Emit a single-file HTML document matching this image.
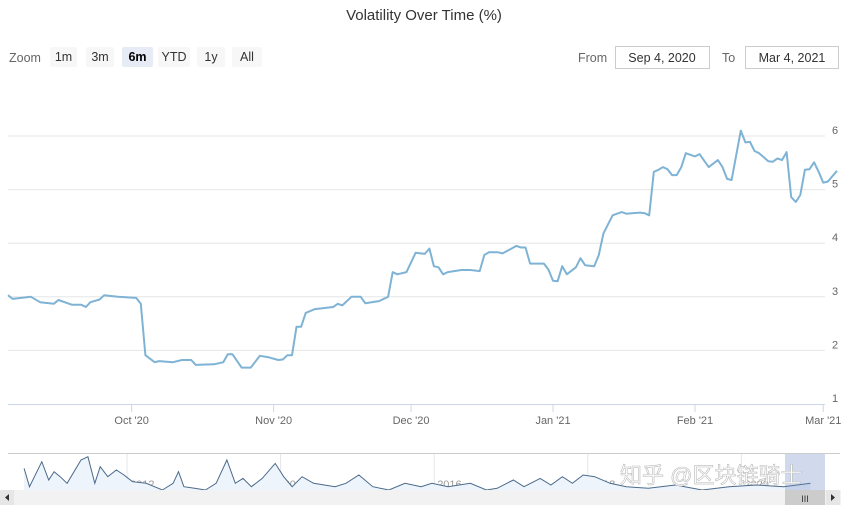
<!DOCTYPE html>
<html><head><meta charset="utf-8">
<style>
body{margin:0;background:#fff;font-family:"Liberation Sans","Noto Sans CJK SC",sans-serif;}
svg{display:block}
</style></head>
<body>
<svg id="chart" width="847" height="511" viewBox="0 0 847 511" xmlns="http://www.w3.org/2000/svg" font-family="Liberation Sans, Noto Sans CJK SC, sans-serif">
  <text x="424" y="20" text-anchor="middle" font-size="15" fill="#333">Volatility Over Time (%)</text>
  <text x="9" y="62" font-size="12.5" fill="#666">Zoom</text>
  <g><rect x="50" y="47" width="27" height="20" rx="2" fill="#f7f7f7"/><text x="63.5" y="61" text-anchor="middle" font-size="12.5" fill="#333">1m</text></g>
  <g><rect x="86" y="47" width="28" height="20" rx="2" fill="#f7f7f7"/><text x="100" y="61" text-anchor="middle" font-size="12.5" fill="#333">3m</text></g>
  <g><rect x="122" y="47" width="31" height="20" rx="2" fill="#e6ebf5"/><text x="137.5" y="61" text-anchor="middle" font-size="12.5" font-weight="bold" fill="#000">6m</text></g>
  <g><rect x="158" y="47" width="32" height="20" rx="2" fill="#f7f7f7"/><text x="174" y="61" text-anchor="middle" font-size="12.5" fill="#333">YTD</text></g>
  <g><rect x="197" y="47" width="28" height="20" rx="2" fill="#f7f7f7"/><text x="211" y="61" text-anchor="middle" font-size="12.5" fill="#333">1y</text></g>
  <g><rect x="232" y="47" width="30" height="20" rx="2" fill="#f7f7f7"/><text x="247" y="61" text-anchor="middle" font-size="12.5" fill="#333">All</text></g>
  <text x="578" y="62" font-size="12.5" fill="#666">From</text>
  <g><rect x="615.5" y="46.5" width="94" height="22" fill="#fff" stroke="#ccc"/><text x="662" y="62" text-anchor="middle" font-size="12.5" fill="#333">Sep 4, 2020</text></g>
  <text x="722" y="62" font-size="12.5" fill="#666">To</text>
  <g><rect x="745.5" y="46.5" width="93" height="22" fill="#fff" stroke="#ccc"/><text x="792" y="62" text-anchor="middle" font-size="12.5" fill="#333">Mar 4, 2021</text></g>
  <g id="grid"></g>
  <g id="xaxis"></g>
  <g id="series"></g>
  <g id="nav"></g>
</svg>
<script>
const days = [0,1,5,7,10,11,14,16,17,18,20,21,24,28,29,30,32,33,36,38,40,41,45,47,48,49,51,53,55,57,59,60,61,62,63,64,65,67,71,72,73,75,77,78,81,83,84,85,87,89,91,92,93,94,95,96,99,101,103,104,105,107,108,111,112,113,114,117,118,119,120,121,122,124,125,126,128,129,130,132,133,134,135,138,139,140,141,142,143,144,145,146,147,148,150,151,153,155,156,157,158,160,161,162,163,164,166,167,168,169,170,171,172,173,174,175,176,177,178,179,181];
const values = [3.03,2.96,3.0,2.9,2.87,2.94,2.85,2.85,2.81,2.9,2.95,3.03,3.0,2.98,2.87,1.91,1.78,1.8,1.78,1.82,1.82,1.73,1.74,1.78,1.93,1.93,1.68,1.68,1.9,1.87,1.82,1.83,1.91,1.91,2.44,2.44,2.70,2.77,2.81,2.87,2.84,3.0,3.0,2.88,2.92,3.0,3.46,3.42,3.46,3.82,3.8,3.9,3.57,3.55,3.42,3.46,3.5,3.5,3.48,3.78,3.83,3.83,3.81,3.95,3.92,3.92,3.62,3.62,3.51,3.3,3.29,3.57,3.42,3.55,3.72,3.59,3.57,3.78,4.18,4.52,4.55,4.58,4.55,4.57,4.56,4.52,5.33,5.37,5.42,5.38,5.27,5.27,5.42,5.68,5.62,5.66,5.42,5.55,5.42,5.2,5.18,6.1,5.88,5.89,5.72,5.68,5.53,5.52,5.58,5.55,5.70,4.86,4.77,4.9,5.37,5.38,5.51,5.33,5.13,5.15,5.35,5.35];
const yTicks = [1,2,3,4,5,6];
const xTickDays = [27,58,88,119,150,178];
const xTickLabels = ["Oct '20","Nov '20","Dec '20","Jan '21","Feb '21","Mar '21"];
const navYears = [2010.66,2010.73,2010.89,2010.98,2011.05,2011.13,2011.22,2011.40,2011.49,2011.58,2011.65,2011.75,2011.86,2011.96,2012.07,2012.25,2012.46,2012.60,2012.67,2012.74,2012.88,2013.02,2013.16,2013.30,2013.41,2013.51,2013.62,2013.76,2013.93,2014.04,2014.15,2014.28,2014.43,2014.71,2014.85,2015.02,2015.20,2015.41,2015.62,2015.83,2015.97,2016.18,2016.47,2016.68,2016.82,2017.03,2017.17,2017.38,2017.52,2017.67,2017.80,2017.94,2018.09,2018.29,2018.50,2018.79,2019.14,2019.49,2019.84,2020.20,2020.55,2020.90];
const navValues = [8,2.5,10,4.5,7,5.5,3.5,10.5,11.5,3.5,8.5,5.5,7.5,6,4,3.5,1.5,3.5,7,2.5,2,1.5,3.5,10.5,3.5,5,2.5,5,9.5,5.5,2.5,5.5,3.5,2.5,3.5,6,2.5,1.5,3.5,2.5,3.5,2.5,3.5,1.5,2,4.5,2.5,5,3,5.5,3.5,6,5.5,3.5,2.5,2,3,1.5,2.5,3,2.5,3.5];
const navTickYears = [2012,2014,2016,2018,2020];

const NS='http://www.w3.org/2000/svg';
function mk(tag,attrs,parent,text){const e=document.createElementNS(NS,tag);for(const k in attrs)e.setAttribute(k,attrs[k]);if(text!==undefined)e.textContent=text;parent.appendChild(e);return e;}
const X0=8, PX_PER_DAY=4.58;
const xs = d => X0 + d*PX_PER_DAY;
const ys = v => 404 - (v-1)*53.6;
const grid=document.getElementById('grid'), xaxis=document.getElementById('xaxis'), series=document.getElementById('series'), nav=document.getElementById('nav');

yTicks.forEach(t=>{
  const y=ys(t);
  if(t>1){const l=mk('line',{x1:8,x2:825,y1:y,y2:y,stroke:'#e6e6e6'},grid);
  
  }
  const tx=mk('text',{x:835,y:y-2,'text-anchor':'middle','font-size':11,fill:'#666'},grid,String(t));
  
  
});
const ax=mk('line',{x1:8,x2:825,y1:404.5,y2:404.5,stroke:'#ccd6eb'},xaxis);


xTickDays.forEach((d,i)=>{
  const x=xs(d);
  const tk=mk('line',{x1:x,x2:x,y1:404,y2:412,stroke:'#ccd6eb'},xaxis);
  
  
  const tx=mk('text',{x:x,y:424,'text-anchor':'middle','font-size':11,fill:'#666'},xaxis,xTickLabels[i]);
  
  
});
const pts=days.map((d,i)=>xs(d).toFixed(1)+','+ys(values[i]).toFixed(1)).join(' ');
const line=mk('polyline',{points:pts,fill:'none',stroke:'#7fb3d5','stroke-width':2,'stroke-linejoin':'round'},series);



// navigator
const NX0=8, NX1=822, NY0=2010.45, NY1=2021.05;
const nxs = yr => NX0 + (yr-NY0)/(NY1-NY0)*(NX1-NX0);
const nys = v => 495 - 3.33*v;
const nb=mk('line',{x1:8,x2:840,y1:453.5,y2:453.5,stroke:'#ccc'},nav);


navTickYears.forEach(yr=>{
  const x=nxs(yr);
  const g=mk('line',{x1:x,x2:x,y1:454,y2:490,stroke:'#e6e6e6'},nav);
  
  
  const t=mk('text',{x:x+3,y:488,'font-size':11,fill:'#999'},nav,String(yr));
  
  
});
const npts=navYears.map((y,i)=>nxs(y).toFixed(1)+','+nys(navValues[i]).toFixed(1));
const area=mk('polygon',{points:nxs(navYears[0])+',490 '+npts.join(' ')+' '+nxs(navYears[navYears.length-1])+',490',fill:'#eef4fb'},nav);


const nl=mk('polyline',{points:npts.join(' '),fill:'none',stroke:'#4a6a8a','stroke-width':1},nav);


const sel=mk('rect',{x:785,y:454,width:40,height:36,fill:'rgba(102,133,194,0.3)'},nav);


const wm=mk('text',{x:620,y:483,'font-size':22,fill:'#fff',stroke:'#bbb','stroke-width':0.6},nav,'知乎 @区块链骑士');


const sb=mk('rect',{x:0,y:490,width:841,height:15,fill:'#f2f2f2'},nav);


const la=mk('rect',{x:0,y:490,width:14,height:15,fill:'#e6e6e6'},nav);


mk('path',{d:'M9 494 L5 497.5 L9 501 Z',fill:'#333'},nav);
const th=mk('rect',{x:785,y:490,width:40,height:15,fill:'#cccccc'},nav);


mk('text',{x:805,y:502,'text-anchor':'middle','font-size':9,fill:'#333'},nav,'III');
const ra=mk('rect',{x:826,y:490,width:14,height:15,fill:'#e6e6e6'},nav);


mk('path',{d:'M831 494 L835 497.5 L831 501 Z',fill:'#333'},nav);
</script>
</body></html>
